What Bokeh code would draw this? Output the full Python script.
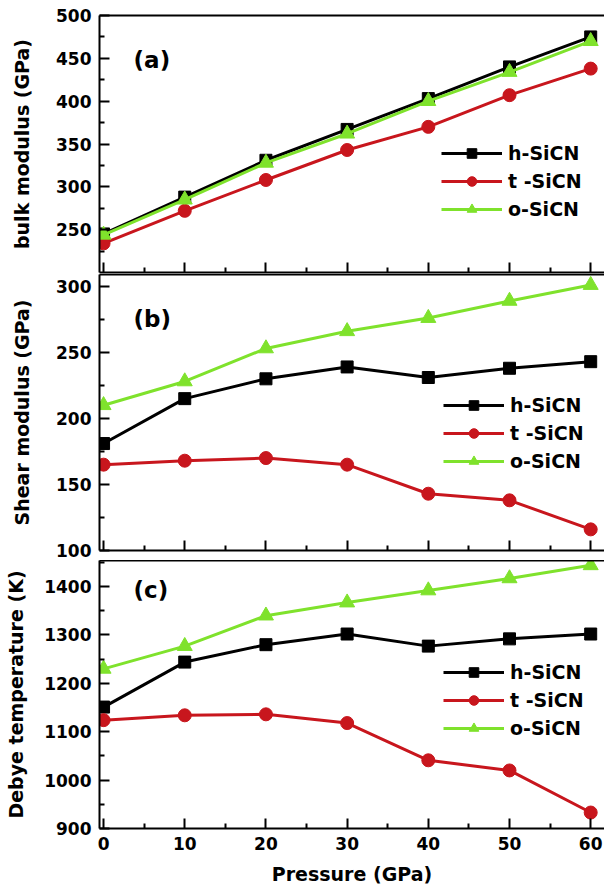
from bokeh.plotting import figure
from bokeh.layouts import column
from bokeh.models import (FixedTicker, LinearAxis, Range1d, Legend, LegendItem, Label,
                          CustomJSTickFormatter)
from bokeh.embed import file_html
from bokeh.resources import INLINE

# Pressure grid (GPa)
pressure = [0, 10, 20, 30, 40, 50, 60]

# Bulk modulus (GPa)
bulk_h = [245, 288, 331, 367, 403, 440, 475]
bulk_t = [234, 272, 308, 343, 370, 407, 438]
bulk_o = [244, 285, 328, 362, 400, 434, 470]

# Shear modulus (GPa)
shear_h = [181, 215, 230, 239, 231, 238, 243]
shear_t = [165, 168, 170, 165, 143, 138, 116]
shear_o = [210, 228, 253, 266, 276, 289, 301]

# Debye temperature (K)
debye_h = [1151, 1244, 1280, 1302, 1277, 1292, 1302]
debye_t = [1124, 1134, 1136, 1118, 1041, 1020, 933]
debye_o = [1230, 1277, 1340, 1367, 1392, 1417, 1444]

series_names = ["h-SiCN", "t -SiCN", "o-SiCN"]
series_colors = ["#000000", "#c8161d", "#7fe22c"]
series_markers = ["square", "circle", "triangle"]
marker_sizes = [12, 13, 15]

x_ticks = [0, 10, 20, 30, 40, 50, 60]
x_minor = [5, 15, 25, 35, 45, 55]

FONT = "DejaVu Sans"


def blank_labels(axis):
    # keep the ticks, drop the numbers
    axis.formatter = CustomJSTickFormatter(code="return ''")
    axis.major_label_text_font_size = "1px"
    axis.major_label_standoff = 0


def make_panel(values, y_lo, y_hi, y_ticks, y_minor, y_title, tag, tag_y,
               height, border_top, border_bottom, legend_xy, title_standoff,
               last=False):
    p = figure(width=604, height=height,
               x_range=Range1d(-0.5, 61.7), y_range=Range1d(y_lo, y_hi),
               output_backend="svg", toolbar_location=None,
               min_border_left=99, min_border_right=0,
               min_border_top=border_top, min_border_bottom=border_bottom)
    p.outline_line_color = None
    p.grid.visible = False
    p.background_fill_color = "white"
    p.border_fill_color = "white"

    # left axis
    ya = p.yaxis[0]
    ya.ticker = FixedTicker(ticks=y_ticks, minor_ticks=y_minor)
    ya.axis_line_width = 2
    ya.major_tick_in = 10
    ya.major_tick_out = 0
    ya.minor_tick_in = 5
    ya.minor_tick_out = 0
    ya.major_tick_line_width = 2
    ya.minor_tick_line_width = 2
    ya.major_label_text_font = FONT
    ya.major_label_text_font_style = "bold"
    ya.major_label_text_font_size = "17px"
    ya.major_label_text_color = "black"
    ya.major_label_standoff = 8
    ya.axis_label = y_title
    ya.axis_label_text_font = FONT
    ya.axis_label_text_font_style = "bold"
    ya.axis_label_text_font_size = "19px"
    ya.axis_label_text_color = "black"
    ya.axis_label_standoff = title_standoff

    # bottom axis
    xa = p.xaxis[0]
    xa.ticker = FixedTicker(ticks=x_ticks, minor_ticks=x_minor)
    xa.axis_line_width = 2
    xa.major_tick_in = 10
    xa.major_tick_out = 0
    xa.minor_tick_in = 5
    xa.minor_tick_out = 0
    xa.major_tick_line_width = 2
    xa.minor_tick_line_width = 2
    if last:
        xa.major_label_text_font = FONT
        xa.major_label_text_font_style = "bold"
        xa.major_label_text_font_size = "17px"
        xa.major_label_text_color = "black"
        xa.major_label_standoff = 8
        xa.axis_label = "Pressure (GPa)"
        xa.axis_label_text_font = FONT
        xa.axis_label_text_font_style = "bold"
        xa.axis_label_text_font_size = "19px"
        xa.axis_label_text_color = "black"
        xa.axis_label_standoff = 10
    else:
        blank_labels(xa)

    # top frame line
    top_axis = LinearAxis(axis_line_width=2, major_tick_in=0, major_tick_out=0,
                          minor_tick_in=0, minor_tick_out=0,
                          ticker=FixedTicker(ticks=[]))
    blank_labels(top_axis)
    p.add_layout(top_axis, "above")

    items = []
    for vals, name, color, marker, size in zip(values, series_names, series_colors,
                                               series_markers, marker_sizes):
        ln = p.line(pressure, vals, line_color=color, line_width=3)
        sc = p.scatter(pressure, vals, marker=marker, size=size,
                       fill_color=color, line_color=color)
        items.append(LegendItem(label=name, renderers=[ln, sc]))

    legend = Legend(items=items, location=legend_xy,
                    glyph_width=61, glyph_height=24, label_height=24,
                    label_standoff=6, spacing=4, padding=0, margin=0,
                    border_line_color=None, background_fill_alpha=0,
                    label_text_font=FONT, label_text_font_style="bold",
                    label_text_font_size="19px", label_text_color="black",
                    label_text_baseline="middle")
    p.add_layout(legend, "center")

    p.add_layout(Label(x=3.7, y=tag_y, text=tag, text_font=FONT,
                       text_font_style="bold", text_font_size="23px",
                       text_baseline="middle", text_color="black"))
    return p


pa = make_panel([bulk_h, bulk_t, bulk_o], 200, 500,
                [250, 300, 350, 400, 450, 500], [225, 275, 325, 375, 425, 475],
                "bulk modulus (GPa)", "(a)", 448,
                height=274, border_top=15, border_bottom=2,
                legend_xy=(342, 51), title_standoff=20)

pb = make_panel([shear_h, shear_t, shear_o], 100, 309,
                [100, 150, 200, 250, 300], [125, 175, 225, 275],
                "Shear modulus (GPa)", "(b)", 275,
                height=286, border_top=0, border_bottom=10,
                legend_xy=(344, 77), title_standoff=20)

pc = make_panel([debye_h, debye_t, debye_o], 900, 1454,
                [900, 1000, 1100, 1200, 1300, 1400], [950, 1050, 1150, 1250, 1350, 1450],
                "Debye temperature (K)", "(c)", 1394,
                height=336, border_top=0, border_bottom=68,
                legend_xy=(344, 88), title_standoff=14, last=True)

layout = column(pa, pb, pc, spacing=0)

open("out.html", "w").write(file_html(layout, INLINE))
